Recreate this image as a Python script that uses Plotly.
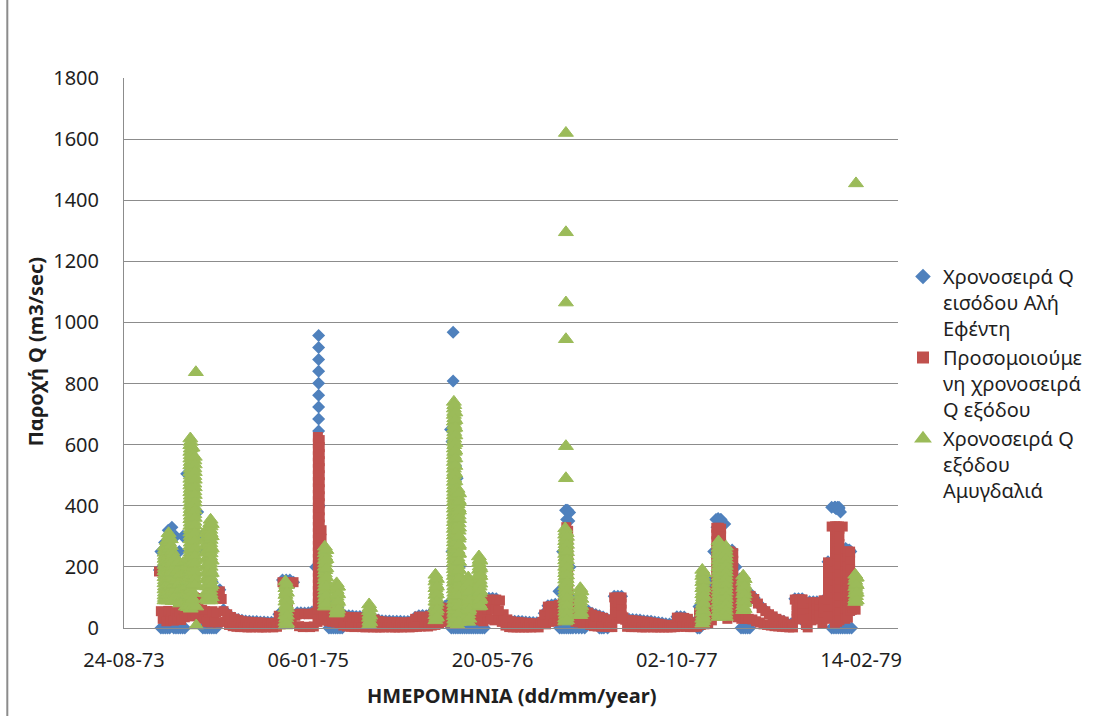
import numpy as np
import pandas as pd
import plotly.graph_objects as go

# All day counts below are days after 24-08-1973 (first date on the axis).
DAY0 = pd.Timestamp("1973-08-24")

# ---------------------------------------------------------------------------
# Χρονοσειρά Q εισόδου Αλή Εφέντη (m3/sec), one reading every 10 days from day 90
inflow_start, inflow_step = 90, 10
inflow_q = [
    None, 250, 280, 320, 330, 300, 250, 300, 505, 480,   # day 90
    450, 380, 300, 250, 200, 150, 120, 125, 60, 48,      # day 190
    38, 32, 28, 25, 23, 22, 21, 21, 20, 20,              # day 290
    19, 19, 20, 45, 157, 157, 157, 150, 50, 50,          # day 390
    49, 50, 52, 200, 400, 250, 120, 80, 70, 66,          # day 490
    45, 40, 40, 39, 38, 38, 37, 36, 35, 30,              # day 590
    26, 24, 23, 23, 22, 22, 22, 21, 21, 22,              # day 690
    35, 40, 41, 40, 45, 55, 70, 72, 70, 80,              # day 790
    250, 300, 200, 150, 104, 104, 104, 100, 97, 97,      # day 890
    97, 97, 96, 28, 24, 24, 23, 22, 22, 21,              # day 990
    20, 19, 18, 17, 17, 48, 73, 75, 78, 120,             # day 1090
    250, 385, 200, 90, 70, 60, 58, 56, 48, 44,           # day 1190
    40, 36, 30, 26, 104, 104, 104, 30, 29, 28,           # day 1290
    27, 26, 24, 23, 22, 20, 18, 16, 14, 13,              # day 1390
    14, 37, 37, 36, 22, 21, 20, 70, 80, 90,              # day 1490
    150, 250, 355, 355, 340, 255, 255, 200, 160, 130,    # day 1590
    115, 112, 98, 82, 68, 57, 46, 38, 30, 25,            # day 1690
    22, 15, 14, 96, 96, 96, 13, 86, 86, 86,              # day 1790
    58, 93, 217, 395, 395, 395, 260, 255, 250, 60,       # day 1890
]
# further inflow readings: (day, [readings of that day])
inflow_extra = [
    (96, [190]),
    # zero records
    (100, [0]), (106, [0]), (112, [0]), (118, [0]), (124, [0]), (135, [0]),
    (141, [0]), (147, [0]), (153, [0]), (159, [0]), (165, [0]),
    (214, [0]), (220, [0]), (226, [0]), (232, [0]), (238, [0]), (244, [0]), (250, [0]),
    (556, [0]), (562, [0]), (568, [0]), (574, [0]), (580, [0]), (586, [0]), (592, [0]),
    (888, [0]), (894, [0]), (900, [0]), (906, [0]), (912, [0]), (918, [0]),
    (924, [0]), (930, [0]), (936, [0]), (942, [0]), (948, [0]), (954, [0]),
    (960, [0]), (966, [0]), (972, [0]), (978, [0]),
    (1182, [0]), (1188, [0]), (1194, [0]), (1200, [0]), (1206, [0]), (1212, [0]),
    (1218, [0]), (1226, [0]), (1234, [0]), (1242, [0]), (1250, [0]),
    (1290, [0]), (1296, [0]), (1302, [0]), (1312, [0]),
    (1556, [0]), (1562, [0]), (1674, [0]), (1680, [0]), (1686, [0]),
    (1692, [0]), (1698, [0]),
    (1920, [0]), (1926, [0]), (1932, [0]), (1938, [0]), (1944, [0]),
    (1950, [0]), (1956, [0]), (1962, [0]), (1968, [0]), (1974, [0]),
    # flood of January 1975
    (528, [957, 918, 879, 840, 801, 762, 723, 684, 645]),
    # flood of February 1976
    (893, [968, 808]), (886, [650]), (890, [610]), (896, [570]),
    (900, [530]), (904, [490]),
    # December 1976
    (1198, [385]), (1204, [385]), (1209, [378]), (1201, [355]), (1207, [350]),
    # December 1977
    (1606, [355]), (1612, [358]), (1618, [355]), (1609, [330]), (1615, [320]),
    # January 1979
    (1928, [395]), (1932, [390]), (1936, [395]), (1940, [390]), (1944, [380]),
    (1958, [260]), (1964, [255]), (1968, [255]), (1972, [250]),
]

# ---------------------------------------------------------------------------
# Προσομοιούμενη χρονοσειρά Q εξόδου (m3/sec), one value every 5 days from day 90
sim_start, sim_step = 90, 5
sim_q = [
    None, 185, 55, 30, 52, 22, 56, 28, 54, 24,      # day 90
    55, 30, 52, 26, 60, 35, 95, 40, 100, 38,        # day 140
    100, 42, 98, 36, 95, 30, 55, 20, 52, 18,        # day 190
    55, 20, 50, 18, 120, 95, 55, 20, 45, 10,        # day 240
    36, 6, 30, 4, 26, 3, 22, 3, 21, 2,              # day 290
    20, 2, 19, 3, 18, 2, 18, 2, 17, 2,              # day 340
    16, 3, 16, 2, 17, 4, 40, 12, 150, 30,           # day 390
    150, 60, 148, 25, 150, 40, 45, 6, 47, 3,        # day 440
    46, 4, 45, 3, 47, 5, 50, 20, 60, 30,            # day 490
    62, 25, 60, 22, 58, 20, 56, 18, 55, 15,         # day 540
    40, 8, 37, 5, 36, 4, 35, 3, 35, 4,              # day 590
    34, 3, 34, 2, 33, 3, 32, 2, 28, 2,              # day 640
    23, 2, 21, 2, 20, 3, 20, 2, 19, 2,              # day 690
    19, 2, 18, 2, 18, 3, 18, 2, 20, 3,              # day 740
    30, 4, 37, 5, 37, 6, 36, 5, 40, 8,              # day 790
    45, 10, 55, 15, 67, 20, 65, 20, 60, 18,         # day 840
    65, 20, 70, 22, 75, 25, 100, 30, 98, 28,        # day 890
    100, 30, 95, 28, 80, 25, 78, 22, 93, 30,        # day 940
    93, 28, 92, 25, 93, 30, 90, 20, 45, 8,          # day 990
    28, 3, 22, 2, 20, 2, 19, 2, 18, 2,              # day 1040
    17, 2, 16, 2, 15, 3, 14, 2, 14, 20,             # day 1090
    44, 12, 70, 20, 72, 22, 70, 25, 75, 30,         # day 1140
    80, 30, 90, 35, 80, 30, 60, 20, 55, 18,         # day 1190
    55, 16, 52, 15, 50, 10, 44, 6, 40, 5,           # day 1240
    36, 5, 33, 4, 28, 3, 22, 3, 100, 30,            # day 1290
    100, 40, 100, 35, 27, 4, 26, 3, 25, 3,          # day 1340
    24, 3, 22, 2, 21, 2, 20, 3, 18, 2,              # day 1390
    16, 2, 14, 2, 12, 2, 10, 2, 9, 2,               # day 1440
    10, 3, 34, 4, 34, 5, 33, 4, 30, 3,              # day 1490
    18, 3, 18, 4, 50, 10, 55, 12, 60, 15,           # day 1540
    90, 25, 120, 40, 150, 45, 180, 50, 200, 60,     # day 1590
    250, 70, 240, 60, 110, 35, 110, 30, 108, 30,    # day 1640
    110, 30, 105, 28, 95, 22, 80, 18, 65, 12,       # day 1690
    55, 10, 45, 8, 38, 6, 30, 5, 25, 4,             # day 1740
    21, 3, 12, 2, 11, 2, 93, 30, 93, 40,            # day 1790
    93, 35, 10, 2, 83, 25, 83, 35, 83, 30,          # day 1840
    55, 15, 90, 30, 214, 60, 332, 100, 332, 150,    # day 1890
    332, 120, 332, 90, 250, 70, 250, 60, 150, 60,   # day 1940
]
# further simulated values during floods and release periods: (day, [values])
sim_extra = [
    # winter 1973-74
    (162, [65]), (172, [68]), (182, [70]), (192, [72]), (202, [70]), (212, [60]),
    # January 1975
    (526, [625, 604, 583, 562, 541, 520, 499, 478, 457, 436, 415, 394, 373, 352,
           331, 310, 289, 268, 247, 226, 205, 184, 163, 142, 121, 100, 80, 60]),
    (531, [615, 592, 569, 546, 523, 500, 477, 454, 431, 408, 385, 362, 339, 316,
           293, 270, 247, 224, 201, 178, 155, 132, 109, 86, 63]),
    (536, [320, 292, 264, 236, 208, 180, 152, 124, 96, 70]),
    (542, [45]), (552, [42]), (562, [40]), (572, [38]), (582, [36]),
    # winter 1975-76
    (852, [40]), (862, [42]), (872, [45]), (882, [45]), (892, [45]), (902, [48]),
    (912, [50]), (917, [65]), (927, [62]), (937, [60]), (947, [62]), (957, [55]),
    (967, [52]), (977, [55]), (987, [60]), (997, [62]), (1007, [60]), (1017, [58]),
    # winter 1976-77
    (1157, [45]), (1167, [48]), (1177, [50]), (1187, [55]), (1197, [60]),
    (1207, [58]), (1217, [50]),
    (1200, [330, 305, 280, 255, 230, 205, 180, 155, 130, 105]),
    (1205, [318, 290, 262, 234, 206, 178, 150, 122]),
    # spring 1977
    (1332, [85, 65, 45]), (1342, [90, 70, 50]), (1350, [80, 60, 40]),
    # December 1977 - January 1978
    (1607, [328, 306, 284, 262, 240, 218, 196, 174, 152, 130, 108, 86, 64, 45]),
    (1614, [328, 303, 278, 253, 228, 203, 178, 153, 128, 103, 78, 53]),
    (1620, [325, 300, 275, 250, 225, 200, 175, 150, 125, 100, 75, 50]),
    (1637, [250, 228, 206, 184, 162, 140, 118, 96, 74, 52, 30]),
    (1645, [250, 225, 200, 175, 150, 125, 100, 75, 50]),
    (1653, [245, 220, 195, 170, 145, 120, 95, 70, 45]),
    # autumn 1978
    (1825, [93, 75, 57, 40]), (1833, [93, 72, 52, 32]), (1841, [93, 70, 48, 28]),
    (1863, [83, 65, 47, 30]), (1871, [83, 62, 42]), (1879, [83, 64, 45, 28]),
    (1886, [80, 60, 40]), (1898, [90, 70, 50]), (1902, [88, 65]),
    # January 1979
    (1910, [214, 192, 170, 148, 126, 104, 82, 60, 38]),
    (1929, [332, 311, 290, 269, 248, 227, 206, 185, 164, 143, 122, 101, 80, 59, 38, 17]),
    (1935, [332, 308, 284, 260, 236, 212, 188, 164, 140, 116, 92, 68, 44, 20]),
    (1941, [325, 300, 275, 250, 225, 200, 175, 150, 125, 100, 75, 50, 25]),
    (1957, [250, 228, 206, 184, 162, 140, 118, 96, 74, 52, 30]),
    (1964, [250, 226, 202, 178, 154, 130, 106, 82, 58, 34]),
    (1970, [245, 218, 191, 164, 137, 110, 83, 56]),
    (1976, [150, 122, 94, 66]), (1981, [130, 100, 72]),
]

# ---------------------------------------------------------------------------
# Χρονοσειρά Q εξόδου Αμυγδαλιά (m3/sec): (day, [readings of that day])
obs_amygdalia = [
    # winter 1973-74
    (110, [266, 246, 226, 206, 186, 166, 146, 126, 106, 90]),
    (111, [256, 236, 216, 196, 176, 156, 136, 116, 98]),
    (116, [285, 262, 240, 218, 196, 174, 152, 130, 108, 90]),
    (121, [310, 290, 270, 250, 230, 210, 190, 170, 150, 130, 110, 90]),
    (122, [300, 280, 260, 240, 220, 200, 180, 160, 140, 120, 100]),
    (127, [290, 268, 246, 224, 202, 180, 158, 136, 114, 92]),
    (131, [250, 230, 210, 190, 170, 150, 130, 110, 95]),
    (132, [240, 220, 200, 180, 160, 140, 120, 100, 88]),
    (140, [230, 205, 180, 155, 130, 105, 88]), (146, [215, 190, 165, 140, 115, 92]),
    (152, [200, 175, 150, 125, 100, 80]),
    (160, [212, 190, 168, 146, 124, 102, 84]),
    (168, [218, 196, 174, 152, 130, 108, 86, 70]),
    (174, [222, 200, 178, 156, 134, 112, 90, 68]),
    (180, [620, 598, 576, 554, 532, 510, 488, 466, 444, 422, 400, 378, 356,
           334, 312, 290, 268, 246, 224, 202, 180, 158, 136, 114, 92, 70]),
    (181, [609, 587, 565, 543, 521, 499, 477, 455, 433, 411, 389, 367, 345,
           323, 301, 279, 257, 235, 213, 191, 169, 147, 125, 103, 81, 63]),
    (186, [590, 565, 540, 515, 490, 465, 440, 415, 390, 365, 340, 315, 290,
           265, 240, 215, 190, 165, 140, 115, 95]),
    (191, [548, 522, 497, 472, 447, 422, 397, 372, 347, 322, 297, 272, 247,
           222, 197, 172, 150]),
    (192, [560, 535, 510, 485, 460, 435, 410, 385, 360, 335, 310, 285, 260,
           235, 210, 185, 160, 140]),
    (195, [837]), (196, [70, 8]),
    (222, [312, 290, 268, 246, 224, 202, 180, 158, 136, 114, 95]),
    (228, [328, 304, 280, 256, 232, 208, 184, 160, 136, 112, 90]),
    (234, [343, 321, 299, 277, 255, 233, 211, 189, 167, 145, 123, 101]),
    (235, [354, 332, 310, 288, 266, 244, 222, 200, 178, 156, 134, 112, 90]),
    (238, [340, 300, 260, 220, 180, 140, 100]),
    # 1974-75
    (438, [152, 130, 108, 86, 64, 42, 20, 8]), (440, [141, 119, 97, 75, 53, 31, 12]),
    (442, [140, 115, 90, 65, 40, 15]),
    (545, [266, 244, 222, 200, 178, 156, 134, 112, 90, 70]),
    (546, [255, 233, 211, 189, 167, 145, 123, 101, 80]),
    (549, [255, 225, 195, 165, 135, 105, 80]),
    (577, [146, 124, 102, 80, 58, 47]), (579, [135, 113, 91, 69, 52]),
    (581, [135, 110, 85, 60]),
    (665, [77, 55, 33, 10]), (666, [66, 44, 22]), (668, [65, 40, 18]),
    # 1975-76
    (845, [174, 152, 130, 108, 86, 64, 42, 25]), (847, [163, 141, 119, 97, 75, 53, 33]),
    (849, [160, 135, 110, 85, 60, 35]),
    (895, [740, 718, 697, 675, 652, 630, 609, 587, 565, 543, 521, 500, 478, 456,
           434, 412, 390, 368, 346, 324, 302, 280, 258, 236, 214, 192, 170, 148,
           126, 104, 82, 60, 38, 15]),
    (896, [729, 707, 686, 664, 641, 619, 598, 576, 554, 532, 510, 489, 467, 445,
           423, 401, 379, 357, 335, 313, 291, 269, 247, 225, 203, 181, 159, 137,
           115, 93, 71, 49, 27]),
    (899, [705, 680, 655, 630, 605, 580, 555, 530, 505, 480, 455, 430, 405, 380,
           355, 330, 305, 280, 255, 230, 205, 180, 155, 130, 105, 80, 55, 30]),
    (905, [455, 430, 405, 380, 355, 330, 305, 280, 255, 230, 205, 180, 155, 130,
           105, 80, 55, 30, 10]),
    (908, [442, 418, 392, 368, 342, 318, 292, 268, 242, 218, 192, 168, 142, 118,
           92, 68, 42, 20]),
    (909, [440, 412, 384, 356, 328, 300, 272, 244, 216, 188, 160, 132, 104, 76, 48, 20]),
    (934, [165, 145, 125, 105, 85, 65, 45, 20]), (935, [155, 135, 115, 95, 75, 55, 32]),
    (937, [150, 120, 90, 60, 30]),
    (963, [234, 212, 190, 168, 146, 124, 102, 80, 70]),
    (965, [223, 201, 179, 157, 135, 113, 91, 75]),
    (967, [220, 195, 170, 145, 120, 95, 72]),
    # 1976-77
    (1197, [326, 305, 284, 263, 242, 221, 200, 179, 158, 137, 116, 95, 74, 53, 32, 21]),
    (1198, [316, 295, 274, 253, 232, 211, 190, 169, 148, 127, 106, 85, 64, 43, 25]),
    (1201, [310, 285, 260, 235, 210, 185, 160, 135, 110, 85, 60, 35]),
    (1202, [298, 272, 248, 222, 198, 172, 148, 122, 98, 72, 48, 25]),
    (1199, [490, 595, 945, 1065, 1295, 1620]),
    (1238, [130, 108, 86, 64, 42]), (1239, [119, 97, 75, 53]),
    (1241, [120, 95, 70, 48]),
    # 1977-78
    (1569, [190, 170, 150, 130, 110, 90, 70, 50, 30, 14]),
    (1571, [180, 160, 140, 120, 100, 80, 60, 40, 22]),
    (1573, [180, 155, 130, 105, 80, 55, 30]),
    (1613, [283, 262, 241, 220, 199, 178, 157, 136, 115, 94, 73, 52, 36]),
    (1614, [273, 252, 231, 210, 189, 168, 147, 126, 105, 84, 63, 45]),
    (1620, [270, 245, 220, 195, 170, 145, 120, 95, 70, 45]),
    (1627, [262, 237, 212, 187, 162, 137, 112, 87, 62, 40]),
    (1632, [256, 235, 214, 193, 172, 151, 130, 109, 88, 67, 46]),
    (1633, [266, 245, 224, 203, 182, 161, 140, 119, 98, 77, 56, 36]),
    (1680, [171, 151, 131, 111, 91, 71, 58]), (1682, [161, 141, 121, 101, 81, 64]),
    (1684, [160, 135, 110, 85, 62]),
    # 1978-79
    (1984, [174, 154, 134, 114, 94, 85]), (1986, [164, 144, 124, 104, 90, 1455]),
    (1988, [165, 140, 115, 90]),
]

# axis ticks every 500 days
tick_dates = ["1973-08-24", "1975-01-06", "1976-05-20", "1977-10-02", "1979-02-14"]
tick_text = ["24-08-73", "06-01-75", "20-05-76", "02-10-77", "14-02-79"]


def as_dates(days):
    return DAY0 + pd.to_timedelta(np.asarray(days, dtype=float), unit="D")


def flatten(stacks):
    days, q = [], []
    for d, values in stacks:
        days += [d] * len(values)
        q += list(values)
    return days, q


def grid_series(start, step, values, extra):
    days = list(start + step * np.arange(len(values)))
    q = [np.nan if v is None else v for v in values]
    ed, eq = flatten(extra)
    return as_dates(days + ed), q + eq


in_x, in_y = grid_series(inflow_start, inflow_step, inflow_q, inflow_extra)
sim_x, sim_y = grid_series(sim_start, sim_step, sim_q, sim_extra)
obs_d, obs_y = flatten(obs_amygdalia)
obs_x = as_dates(obs_d)

BLUE, RED, GREEN = "#4F81BD", "#C0504D", "#9BBB59"
GRID = "#8c8c8c"
FONT = "Noto Sans, Open Sans, DejaVu Sans, sans-serif"

fig = go.Figure()
fig.add_trace(go.Scatter(
    x=in_x, y=in_y, mode="markers", cliponaxis=False,
    name="Χρονοσειρά Q<br>εισόδου Αλή<br>Εφέντη",
    marker=dict(symbol="diamond", size=10, color=BLUE, line=dict(width=0)),
))
fig.add_trace(go.Scatter(
    x=sim_x, y=sim_y, mode="markers", cliponaxis=False,
    name="Προσομοιούμε<br>νη χρονοσειρά<br>Q εξόδου",
    marker=dict(symbol="square", size=10, color=RED, line=dict(width=0)),
))
fig.add_trace(go.Scatter(
    x=obs_x, y=obs_y, mode="markers", cliponaxis=False,
    name="Χρονοσειρά Q<br>εξόδου<br>Αμυγδαλιά",
    marker=dict(symbol="triangle-up", size=13, color=GREEN,
                line=dict(width=1, color=GREEN)),
))

L, R, T, B = 124, 199, 78, 88
W, H = 1099, 716
PW, PH = W - L - R, H - T - B

fig.update_layout(
    width=W, height=H,
    margin=dict(l=L, r=R, t=T, b=B, pad=0),
    paper_bgcolor="white", plot_bgcolor="white",
    font=dict(family=FONT, size=20, color="#1f1f1f"),
    showlegend=True,
    legend=dict(
        x=(905 - L) / PW, y=(H - B - 257) / PH, xanchor="left", yanchor="top",
        font=dict(family=FONT, size=20, color="#1f1f1f"),
        bgcolor="rgba(0,0,0,0)", valign="top", tracegroupgap=0,
        itemsizing="constant",
    ),
    xaxis=dict(
        type="date",
        range=[DAY0, DAY0 + pd.Timedelta(days=2100)],
        tickvals=tick_dates, ticktext=tick_text,
        showgrid=False, zeroline=False,
        showline=True, linecolor=GRID, linewidth=1,
        ticks="", ticklabelstandoff=14,
        tickfont=dict(size=20),
    ),
    yaxis=dict(
        range=[0, 1800], tick0=0, dtick=200,
        showgrid=True, gridcolor=GRID, gridwidth=1,
        zeroline=False, showline=True, linecolor=GRID, linewidth=1,
        ticks="", ticklabelstandoff=20,
        tickfont=dict(size=20),
    ),
    annotations=[
        dict(text="Παροχή Q (m3/sec)", textangle=-90,
             xref="paper", yref="paper",
             x=(35 - L) / PW, y=(H - B - 352) / PH,
             xanchor="center", yanchor="middle", showarrow=False,
             font=dict(family=FONT, size=20, weight="bold", color="#1f1f1f")),
        dict(text="ΗΜΕΡΟΜΗΝΙΑ (dd/mm/year)",
             xref="paper", yref="paper",
             x=0.5, y=(H - B - 695) / PH,
             xanchor="center", yanchor="middle", showarrow=False,
             font=dict(family=FONT, size=20, weight="bold", color="#1f1f1f")),
    ],
    shapes=[
        dict(type="line", xref="paper", yref="paper",
             x0=(7 - L) / PW, x1=(7 - L) / PW, y0=-B / PH, y1=1 + T / PH,
             line=dict(color=GRID, width=2)),
    ],
)

fig.write_html("out.html")
